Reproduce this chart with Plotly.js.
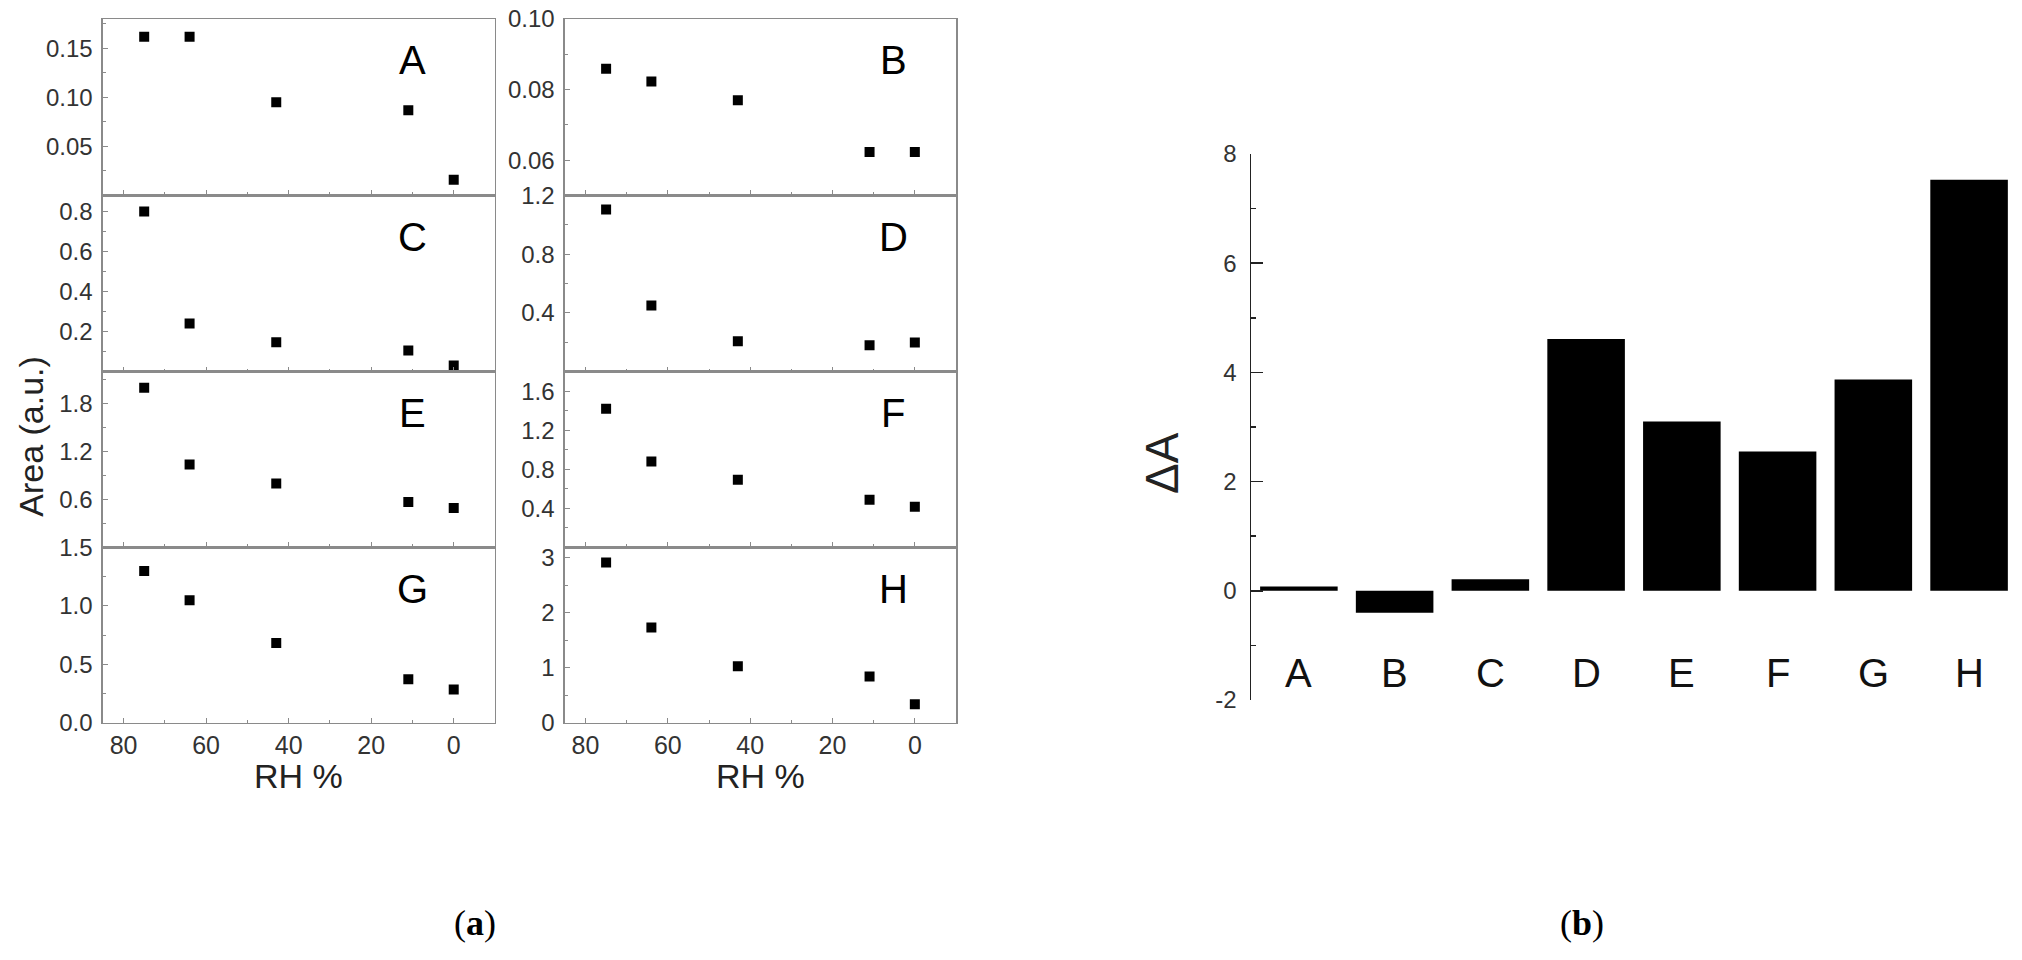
<!DOCTYPE html>
<html>
<head>
<meta charset="utf-8">
<script src="https://cdn.plot.ly/plotly-3.0.1.min.js"></script>
<style>
html, body { margin:0; padding:0; background:#fff; }
#chart { width:2022px; height:960px; }
</style>
</head>
<body>
<div id="chart"></div>
<script>
// relative humidity steps, shared by all eight panels
var rh = [75, 64, 43, 11, 0];

var areaA = [0.162, 0.162, 0.095, 0.087, 0.016];
var areaB = [0.0859, 0.0823, 0.077, 0.0623, 0.0623];
var areaC = [0.80, 0.241, 0.147, 0.106, 0.031];
var areaD = [1.105, 0.45, 0.207, 0.181, 0.199];
var areaE = [2.0, 1.04, 0.80, 0.57, 0.495];
var areaF = [1.42, 0.88, 0.694, 0.49, 0.418];
var areaG = [1.30, 1.05, 0.684, 0.373, 0.286];
var areaH = [2.91, 1.73, 1.03, 0.84, 0.34];

var samples = ['A', 'B', 'C', 'D', 'E', 'F', 'G', 'H'];
var deltaA = [0.08, -0.40, 0.21, 4.61, 3.10, 2.55, 3.87, 7.53];

var rhTicks = [0, 20, 40, 60, 80];
var ticksA = [0.05, 0.10, 0.15];
var ticksB = [0.06, 0.08, 0.10];
var ticksC = [0.2, 0.4, 0.6, 0.8];
var ticksD = [0.4, 0.8, 1.2];
var ticksE = [0.6, 1.2, 1.8];
var ticksF = [0.4, 0.8, 1.2, 1.6];
var ticksG = [0.0, 0.5, 1.0, 1.5];
var ticksH = [0, 1, 2, 3];
var deltaTicks = [-2, 0, 2, 4, 6, 8];
var deltaTickText = ['-2', '0', '2', '4', '6', '8'];

var panels = [
	{name: 'A', y: areaA, range: [0, 0.18], ticks: ticksA, minor: 0.025, fmt: '.2f'},
	{name: 'B', y: areaB, range: [0.05, 0.10], ticks: ticksB, minor: 0.01, fmt: '.2f'},
	{name: 'C', y: areaC, range: [0, 0.88], ticks: ticksC, minor: 0.1, fmt: '.1f'},
	{name: 'D', y: areaD, range: [0, 1.2], ticks: ticksD, minor: 0.2, fmt: '.1f'},
	{name: 'E', y: areaE, range: [0, 2.2], ticks: ticksE, minor: 0.3, fmt: '.1f'},
	{name: 'F', y: areaF, range: [0, 1.8], ticks: ticksF, minor: 0.2, fmt: '.1f'},
	{name: 'G', y: areaG, range: [0, 1.5], ticks: ticksG, minor: 0.25, fmt: '.1f'},
	{name: 'H', y: areaH, range: [0, 3.18], ticks: ticksH, minor: 0.5, fmt: 'd'}
];

var colDomains = [[0.0509, 0.2448], [0.2794, 0.4728]];
var rowDomains = [[0.7964, 0.9802], [0.6128, 0.7964], [0.4297, 0.6128], [0.2469, 0.4297]];
var frameColor = '#8a8a8a';
var sans = 'Liberation Sans, Arial, sans-serif';
var yTickFont = {family: sans, size: 24, color: '#333'};
var xTickFont = {family: sans, size: 25, color: '#333'};

function label(text, xref, yref, x, y, size, extra)
{
	var a = {
		text: text, xref: xref, yref: yref, x: x, y: y,
		xanchor: 'center', yanchor: 'middle', showarrow: false,
		font: {family: sans, size: size, color: '#222'}
	};
	for(var key in extra)
	{
		a[key] = extra[key];
	}
	return a;
}

var traces = [];
var layout =
{
	width: 2022,
	height: 960,
	margin: {l: 0, r: 0, t: 0, b: 0},
	paper_bgcolor: '#fff',
	plot_bgcolor: 'rgba(0,0,0,0)',
	showlegend: false,
	bargap: 0.19,
	font: {family: sans, color: '#222'},
	annotations: []
};

for(var iii = 0; iii < panels.length; iii++)
{
	var p = panels[iii];
	var n = iii + 1;
	var col = iii % 2;
	var row = Math.floor(iii / 2);
	traces.push({
		x: rh,
		y: p.y,
		xaxis: 'x' + n,
		yaxis: 'y' + n,
		type: 'scatter',
		mode: 'markers',
		marker: {symbol: 'square', size: 10, color: '#000'},
		hoverinfo: 'skip'
	});
	layout['xaxis' + n] =
	{
		domain: colDomains[col], anchor: 'y' + n, range: [85, -10],
		showline: true, mirror: true, linecolor: frameColor, linewidth: 1.5,
		ticks: 'inside', ticklen: 5, tickwidth: 1, tickcolor: frameColor,
		tickmode: 'array', tickvals: rhTicks,
		minor: {ticks: 'inside', ticklen: 3, tickwidth: 1, tickcolor: frameColor, tick0: 0, dtick: 10},
		showticklabels: row == 3, tickfont: xTickFont, ticklabelstandoff: 0,
		showgrid: false, zeroline: false
	};
	layout['yaxis' + n] =
	{
		domain: rowDomains[row], anchor: 'x' + n, range: p.range,
		showline: true, mirror: true, linecolor: frameColor, linewidth: 1.5,
		ticks: 'inside', ticklen: 5, tickwidth: 1, tickcolor: frameColor,
		tickmode: 'array', tickvals: p.ticks, tickformat: p.fmt,
		minor: {ticks: 'inside', ticklen: 3, tickwidth: 1, tickcolor: frameColor, tick0: 0, dtick: p.minor},
		tickfont: yTickFont, ticklabelstandoff: 4,
		showgrid: false, zeroline: false
	};
	layout.annotations.push(label(p.name, 'x' + n + ' domain', 'y' + n + ' domain',
		col == 0 ? 0.79 : 0.84, 0.765, 40, {font: {family: sans, size: 40, color: '#000'}}));
}

// panel (b): change of area per sample
traces.push({
	x: samples,
	y: deltaA,
	xaxis: 'x9',
	yaxis: 'y9',
	type: 'bar',
	marker: {color: '#000', line: {width: 0}},
	hoverinfo: 'skip'
});
layout.xaxis9 =
{
	domain: [0.6187, 0.9975], anchor: 'y9', type: 'category', range: [-0.5, 7.5],
	showline: false, ticks: '', showticklabels: false, showgrid: false, zeroline: false
};
layout.yaxis9 =
{
	domain: [0.2708, 0.8396], anchor: 'x9', range: [-2, 8],
	showline: true, linecolor: '#222', linewidth: 1.5,
	ticks: 'inside', ticklen: 12, tickwidth: 1.5, tickcolor: '#222',
	tickmode: 'array', tickvals: deltaTicks, ticktext: deltaTickText,
	minor: {ticks: 'inside', ticklen: 5, tickwidth: 1.5, tickcolor: '#222', tick0: 1, dtick: 2},
	tickfont: yTickFont, ticklabelstandoff: 8,
	showgrid: false, zeroline: false
};
for(iii = 0; iii < samples.length; iii++)
{
	layout.annotations.push(label(samples[iii], 'x9', 'y9', samples[iii], -1.5, 40,
		{font: {family: sans, size: 40, color: '#111'}}));
}

// axis titles and panel captions
layout.annotations.push(label('Area (a.u.)', 'paper', 'paper', 0.0153, 0.546, 34, {textangle: -90}));
layout.annotations.push(label('RH %', 'x7 domain', 'paper', 0.5, 0.192, 34));
layout.annotations.push(label('RH %', 'x8 domain', 'paper', 0.5, 0.192, 34));
layout.annotations.push(label('\u0394A', 'paper', 'paper', 0.5747, 0.5177, 46, {textangle: -90}));
layout.annotations.push(label('(<b>a</b>)', 'paper', 'paper', 0.2349, 0.0385, 36,
	{font: {family: 'Liberation Serif, Times New Roman, serif', size: 36, color: '#000'}}));
layout.annotations.push(label('(<b>b</b>)', 'paper', 'paper', 0.7824, 0.0385, 36,
	{font: {family: 'Liberation Serif, Times New Roman, serif', size: 36, color: '#000'}}));

Plotly.newPlot('chart', traces, layout, {displayModeBar: false, staticPlot: true});
</script>
</body>
</html>
